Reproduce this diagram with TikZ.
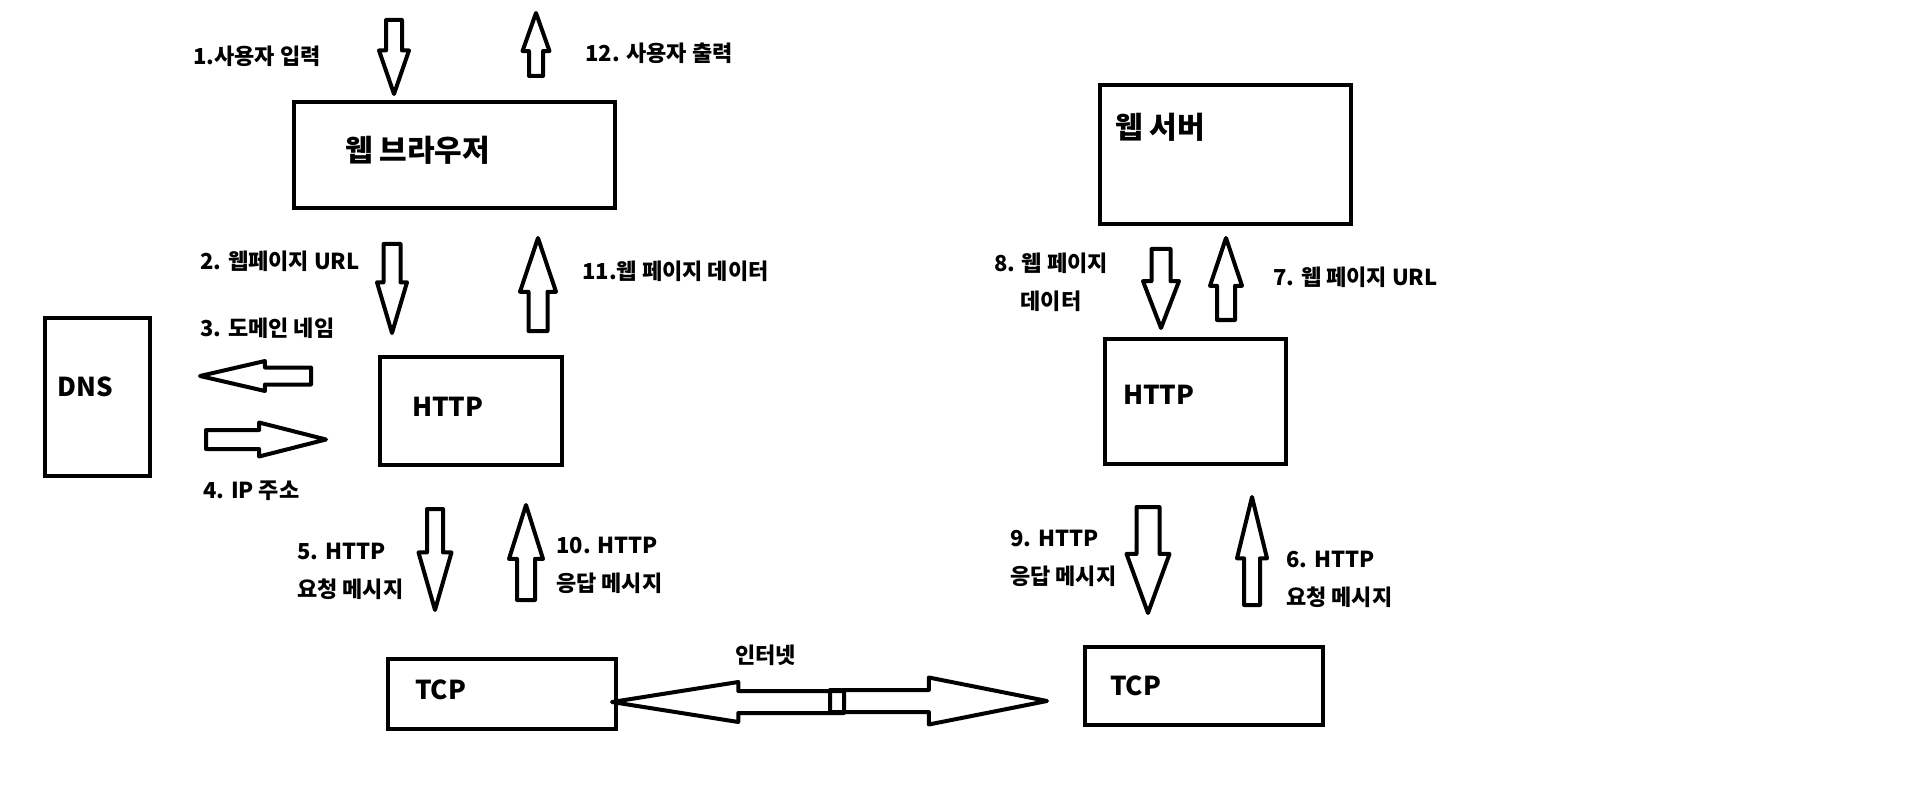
\documentclass[tikz,border=0pt]{standalone}
\usepackage{fontspec}
\setmainfont{Noto Sans CJK KR}
\usepackage{tikz}
\usetikzlibrary{shapes.arrows, positioning}

\begin{document}
\begin{tikzpicture}[
      x=1pt, y=-1pt,
      box/.style={draw, line width=4.5pt, inner sep=0pt},
      txt/.style={font=\fontsize{26}{30}\selectfont\bfseries, anchor=west, inner sep=0pt},
      bigtxt/.style={txt, font=\fontsize{30}{34}\selectfont\bfseries},
      lbl/.style={font=\fontsize{22}{38}\selectfont\bfseries, anchor=west, inner sep=0pt, align=left},
      blk/.style={single arrow, draw, line width=4pt, line join=round, inner sep=6.5pt,
        single arrow head extend=7pt, single arrow tip angle=36, anchor=tail},
      down/.style={blk, shape border rotate=270},
      up/.style={blk, shape border rotate=90}
    ]

    \fill[white] (0,0) rectangle (1914,810);

    % boxes
    \node[box, minimum width=321pt, minimum height=106pt] (browser) at (454.5,155) {};
    \node[box, minimum width=105pt, minimum height=158pt] (dns) at (97.5,397) {};
    \node[box, minimum width=182pt, minimum height=108pt] (http-c) at (471,411) {};
    \node[box, minimum width=228pt, minimum height=70pt] (tcp-c) at (502,694) {};
    \node[box, minimum width=251pt, minimum height=139pt] (server) at (1225.5,154.5) {};
    \node[box, minimum width=181pt, minimum height=125pt] (http-s) at (1195.5,401.5) {};
    \node[box, minimum width=238pt, minimum height=78pt] (tcp-s) at (1204,686) {};

    \node[bigtxt] (browser-txt) at (345,150) {웹 브라우저};
    \node[txt] (dns-txt) at (57,387) {DNS};
    \node[txt] (http-c-txt) at (412,407) {HTTP};
    \node[txt] (tcp-c-txt) at (415,690) {TCP};
    \node[bigtxt] (server-txt) at (1115,127) {웹 서버};
    \node[txt] (http-s-txt) at (1123,395) {HTTP};
    \node[txt] (tcp-s-txt) at (1110,686) {TCP};

    % block arrows
    \node[down, minimum height=74pt, inner sep=6pt, single arrow tip angle=38] (a1) at (394,18) {};
    \node[up, minimum height=63pt, inner sep=5pt, single arrow head extend=6.5pt, single arrow tip angle=39] (a12) at (536,78) {};
    \node[down, minimum height=89pt, inner sep=6.5pt, single arrow head extend=6.5pt, single arrow tip angle=33] (a2) at (392,242) {};
    \node[up, minimum height=93pt, inner sep=7.5pt, single arrow head extend=8.5pt, single arrow tip angle=37] (a11) at (538,333) {};
    \node[blk, shape border rotate=180, minimum height=111pt, inner sep=6.5pt, single arrow head extend=6.5pt, single arrow tip angle=26] (a3) at (313,376) {};
    \node[blk, minimum height=120pt, inner sep=7.5pt, single arrow head extend=7.5pt, single arrow tip angle=28.5] (a4) at (204,439.5) {};
    \node[down, minimum height=101pt, inner sep=6pt, single arrow head extend=8.5pt, single arrow tip angle=32] (a5) at (435,507) {};
    \node[up, minimum height=95pt, inner sep=7pt, single arrow head extend=8pt, single arrow tip angle=35] (a10) at (526,602) {};
    \node[down, minimum height=79pt, inner sep=7.5pt, single arrow head extend=8.5pt, single arrow tip angle=42] (a8) at (1161,247) {};
    \node[up, minimum height=82pt, inner sep=7pt, single arrow tip angle=37] (a7) at (1226,322) {};
    \node[down, minimum height=106pt, inner sep=9.5pt, single arrow head extend=10pt, single arrow tip angle=40] (a9) at (1148,505) {};
    \node[up, minimum height=108pt, inner sep=6pt, single arrow tip angle=27.5] (a6) at (1252,607) {};
    \node[blk, shape border rotate=180, minimum height=232pt, inner sep=9pt, single arrow head extend=9pt, single arrow tip angle=18] (net-l) at (846,702) {};
    \node[blk, minimum height=217pt, inner sep=9pt, single arrow head extend=12.5pt, single arrow tip angle=22.5] (net-r) at (828,701) {};

    % labels
    \node[lbl] (l1) at (193,56) {1.사용자 입력};
    \node[lbl] (l12) at (585,53) {12. 사용자 출력};
    \node[lbl] (l2) at (200,261) {2. 웹페이지 URL};
    \node[lbl] (l11) at (582,271) {11.웹 페이지 데이터};
    \node[lbl] (l3) at (200,328) {3. 도메인 네임};
    \node[lbl] (l4) at (203,491) {4. IP 주소};
    \node[lbl] (l5) at (297,571) {5. HTTP\\요청 메시지};
    \node[lbl] (l10) at (556,565) {10. HTTP\\응답 메시지};
    \node[lbl, anchor=center, align=center] (l8) at (1051,282) {8. 웹 페이지\\데이터};
    \node[lbl] (l7) at (1273,277) {7. 웹 페이지 URL};
    \node[lbl] (l9) at (1010,558.5) {9. HTTP\\응답 메시지};
    \node[lbl] (l6) at (1286,579) {6. HTTP\\요청 메시지};
    \node[lbl] (l-net) at (735,655) {인터넷};
  \end{tikzpicture}
\end{document}
